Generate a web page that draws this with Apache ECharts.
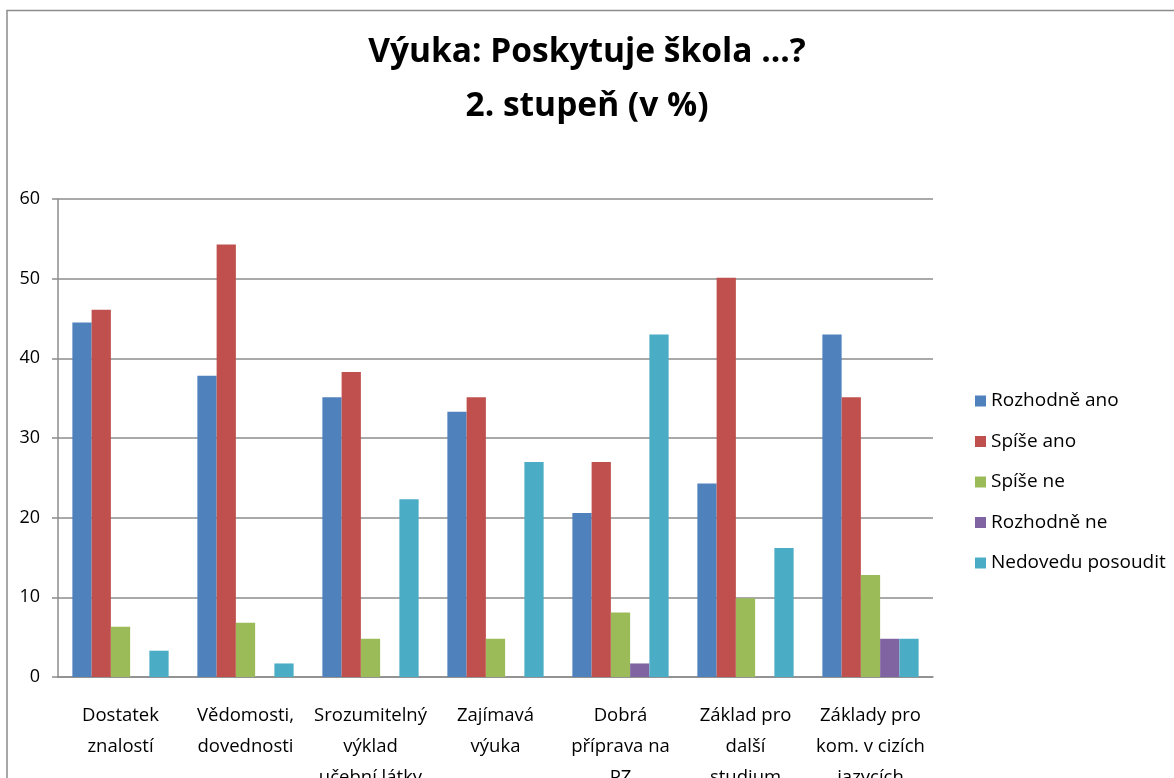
<!DOCTYPE html>
<html>
<head>
<meta charset="utf-8">
<script src="https://cdn.jsdelivr.net/npm/echarts@6/dist/echarts.min.js"></script>
<style>
  html, body { margin: 0; padding: 0; background: #fff; }
  #chart { width: 1174px; height: 778px; }
</style>
</head>
<body>
<div id="chart"></div>
<script>
// kategorie (osa x)
var categories = [
  'Dostatek\nznalostí',
  'Vědomosti,\ndovednosti',
  'Srozumitelný\nvýklad\nučební látky',
  'Zajímavá\nvýuka',
  'Dobrá\npříprava na\nPZ',
  'Základ pro\ndalší\nstudium',
  'Základy pro\nkom. v cizích\njazycích'
];
var seriesNames = ['Rozhodně ano', 'Spíše ano', 'Spíše ne', 'Rozhodně ne', 'Nedovedu posoudit'];
var rozhodneAno = [44.5, 37.8, 35.1, 33.3, 20.6, 24.3, 43.0];
var spiseAno = [46.1, 54.3, 38.3, 35.1, 27.0, 50.1, 35.1];
var spiseNe = [6.3, 6.8, 4.8, 4.8, 8.1, 9.9, 12.8];
var rozhodneNe = [0, 0, 0, 0, 1.7, 0, 4.8];
var nedovedu = [3.3, 1.7, 22.3, 27.0, 43.0, 16.2, 4.8];
var yTicks = [0, 10, 20, 30, 40, 50, 60];

var colors = ['#4F81BD', '#C0504D', '#9BBB59', '#8064A2', '#4BACC6'];
var allData = [rozhodneAno, spiseAno, spiseNe, rozhodneNe, nedovedu];
var font = '"Open Sans", Lato, sans-serif';

var myChart = echarts.init(document.getElementById('chart'));

var series = [];
allData.forEach(function (d, i) {
  series.push({
    name: seriesNames[i],
    type: 'bar',
    data: d,
    barGap: 0,
    barCategoryGap: '23%',
    itemStyle: { color: colors[i] }
  });
});

var option = {
  animation: false,
  color: colors,
  // ramecek grafu
  graphic: [{
    type: 'rect',
    shape: { x: 7, y: 10.5, width: 1200, height: 820 },
    style: { fill: 'none', stroke: '#8c8c8c', lineWidth: 1.5 }
  }],
  title: {
    text: 'Výuka: Poskytuje škola ...?\n2. stupeň (v %)',
    left: 'center',
    top: 20,
    textStyle: {
      fontFamily: font,
      fontSize: 33.5,
      fontWeight: 'bold',
      color: '#000',
      lineHeight: 54
    }
  },
  legend: {
    orient: 'vertical',
    left: 970,
    top: 386,
    itemWidth: 11,
    itemHeight: 11,
    itemGap: 20.5,
    icon: 'rect',
    data: seriesNames,
    textStyle: { fontFamily: font, fontSize: 19, color: '#000', lineHeight: 20 }
  },
  grid: {
    left: 58,
    right: 241,
    top: 199,
    bottom: 101,
    containLabel: false,
    outerBoundsMode: 'none'
  },
  xAxis: {
    type: 'category',
    data: categories,
    axisLine: { lineStyle: { color: '#8c8c8c', width: 1.5 } },
    axisTick: { length: 6, lineStyle: { color: '#8c8c8c', width: 1.5 } },
    axisLabel: {
      fontFamily: font,
      fontSize: 18.5,
      color: '#000',
      lineHeight: 31,
      margin: 23,
      interval: 0
    }
  },
  yAxis: {
    type: 'value',
    min: yTicks[0],
    max: yTicks[yTicks.length - 1],
    interval: 10,
    axisLine: { show: true, lineStyle: { color: '#8c8c8c', width: 1.5 } },
    axisTick: { show: true, length: 6, lineStyle: { color: '#8c8c8c', width: 1.5 } },
    splitLine: { lineStyle: { color: '#8c8c8c', width: 1.5 } },
    axisLabel: {
      fontFamily: font,
      fontSize: 18,
      color: '#000',
      margin: 18
    }
  },
  series: series
};

myChart.setOption(option);
</script>
</body>
</html>
